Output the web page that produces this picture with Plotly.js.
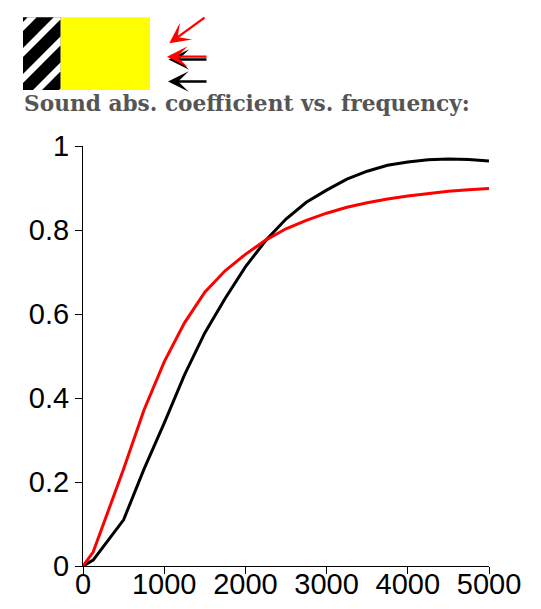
<!DOCTYPE html>
<html>
<head>
<meta charset="utf-8">
<script src="https://cdn.plot.ly/plotly-3.0.1.min.js"></script>
<style>html,body{margin:0;padding:0;background:#fff;}#chart{width:541px;height:609px;}</style>
</head>
<body>
<div id="chart"></div>
<script>
// ---- data ----
const frequency = [0,125,500,750,1000,1250,1500,1750,2000,2250,2500,2750,3000,3250,3500,3750,4000,4250,4500,4750,5000];
const absBlack  = [0,0.014,0.11,0.23,0.34,0.455,0.555,0.637,0.712,0.775,0.826,0.866,0.895,0.921,0.94,0.954,0.962,0.967,0.969,0.968,0.964];
const absRed    = [0,0.033,0.231,0.371,0.486,0.579,0.652,0.703,0.742,0.776,0.803,0.823,0.84,0.854,0.865,0.874,0.881,0.887,0.892,0.896,0.899];
const xTicks = [0,1000,2000,3000,4000,5000];
const xTickText = ['0','1000','2000','3000','4000','5000'];
const yTicks = [0,0.2,0.4,0.6,0.8,1];
const yTickText = ['0','0.2','0.4','0.6','0.8','1'];
const titleText = 'Sound abs. coefficient vs. frequency:';

// ---- layout geometry (pixels) ----
const W = 541, H = 609;
const M = {l:83, r:52, t:146, b:43};
const plotW = W - M.l - M.r, plotH = H - M.t - M.b;
const px = x => (x - M.l) / plotW;
const py = y => (H - M.b - y) / plotH;

// illustration: striped block + yellow block
const box = {x0:23, x1:60.7, y0:17.3, y1:90};
const yellow = {x0:60.7, x1:150, y0:17.3, y1:90};

function clip(poly, test, inter){
  const out = [];
  for (let i=0;i<poly.length;i++){
    const a = poly[i], b = poly[(i+1)%poly.length];
    const ia = test(a), ib = test(b);
    if (ia) out.push(a);
    if (ia !== ib) out.push(inter(a,b));
  }
  return out;
}
function clipRect(poly, r){
  const ix = (a,b,x)=>[x, a[1]+(b[1]-a[1])*(x-a[0])/(b[0]-a[0])];
  const iy = (a,b,y)=>[a[0]+(b[0]-a[0])*(y-a[1])/(b[1]-a[1]), y];
  poly = clip(poly, p=>p[0]>=r.x0, (a,b)=>ix(a,b,r.x0));
  poly = clip(poly, p=>p[0]<=r.x1, (a,b)=>ix(a,b,r.x1));
  poly = clip(poly, p=>p[1]>=r.y0, (a,b)=>iy(a,b,r.y0));
  poly = clip(poly, p=>p[1]<=r.y1, (a,b)=>iy(a,b,r.y1));
  return poly;
}
const shapes = [];
shapes.push({type:'rect', xref:'paper', yref:'paper', x0:px(box.x0), x1:px(box.x1), y0:py(box.y1), y1:py(box.y0), fillcolor:'#000', line:{width:0}, layer:'above'});
const period = 26, stripeW = 9, start = 45;
for (let s = start - period; s < box.x1 + box.y1 + period; s += period){
  let poly = [[s - box.y0 + 20, box.y0 - 20], [s + stripeW - box.y0 + 20, box.y0 - 20],
              [s + stripeW - box.y1 - 20, box.y1 + 20], [s - box.y1 - 20, box.y1 + 20]];
  poly = clipRect(poly, box);
  if (poly.length < 3) continue;
  const d = 'M' + poly.map(p => px(p[0]).toFixed(5) + ',' + py(p[1]).toFixed(5)).join('L') + 'Z';
  shapes.push({type:'path', xref:'paper', yref:'paper', path:d, fillcolor:'#fff', line:{width:0}, layer:'above'});
}
shapes.push({type:'rect', xref:'paper', yref:'paper', x0:px(yellow.x0), x1:px(yellow.x1), y0:py(yellow.y1), y1:py(yellow.y0), fillcolor:'#ffff00', line:{width:0}, layer:'above'});

const arrow = (hx, hy, tx, ty, color) => ({
  xref:'paper', yref:'paper', x:px(hx), y:py(hy), ax:tx-hx, ay:ty-hy, axref:'pixel', ayref:'pixel',
  text:'', showarrow:true, arrowhead:3, arrowsize:1.5, arrowwidth:2.3, arrowcolor:color
});
const annotations = [
  arrow(169.3, 43.3, 206, 16.5, '#ff0000'),
  arrow(168.5, 59.5, 208, 59.5, '#000000'),
  arrow(167, 56.7, 208, 56.7, '#ff0000'),
  arrow(168, 81.5, 208, 81.5, '#000000'),
  {xref:'paper', yref:'paper', x:px(22), y:py(104), xanchor:'left', yanchor:'middle', showarrow:false,
   text:'<b>' + titleText + '</b>', font:{family:'DejaVu Serif, serif', size:21.7, color:'#555555'}}
];

const traces = [
  {x:frequency, y:absBlack, type:'scatter', mode:'lines', line:{color:'#000000', width:3}, hoverinfo:'skip'},
  {x:frequency, y:absRed, type:'scatter', mode:'lines', line:{color:'#ff0000', width:3}, hoverinfo:'skip'}
];

const axisCommon = {
  ticks:'outside', ticklen:7, tickwidth:1, tickcolor:'#000',
  showline:true, linecolor:'#000', linewidth:1, showgrid:false, zeroline:false,
  tickfont:{family:'Liberation Sans, Arial, sans-serif', size:29, color:'#000'}, fixedrange:true
};
const layout = {
  width:W, height:H, margin:{l:M.l, r:M.r, t:M.t, b:M.b, pad:0},
  paper_bgcolor:'#fff', plot_bgcolor:'#fff', showlegend:false,
  xaxis:Object.assign({}, axisCommon, {range:[0,5000], tickvals:xTicks, ticktext:xTickText, ticklabelstandoff:-15}),
  yaxis:Object.assign({}, axisCommon, {range:[0,1], tickvals:yTicks, ticktext:yTickText}),
  shapes:shapes, annotations:annotations
};
Plotly.newPlot('chart', traces, layout, {displayModeBar:false, staticPlot:true});
</script>
</body>
</html>
